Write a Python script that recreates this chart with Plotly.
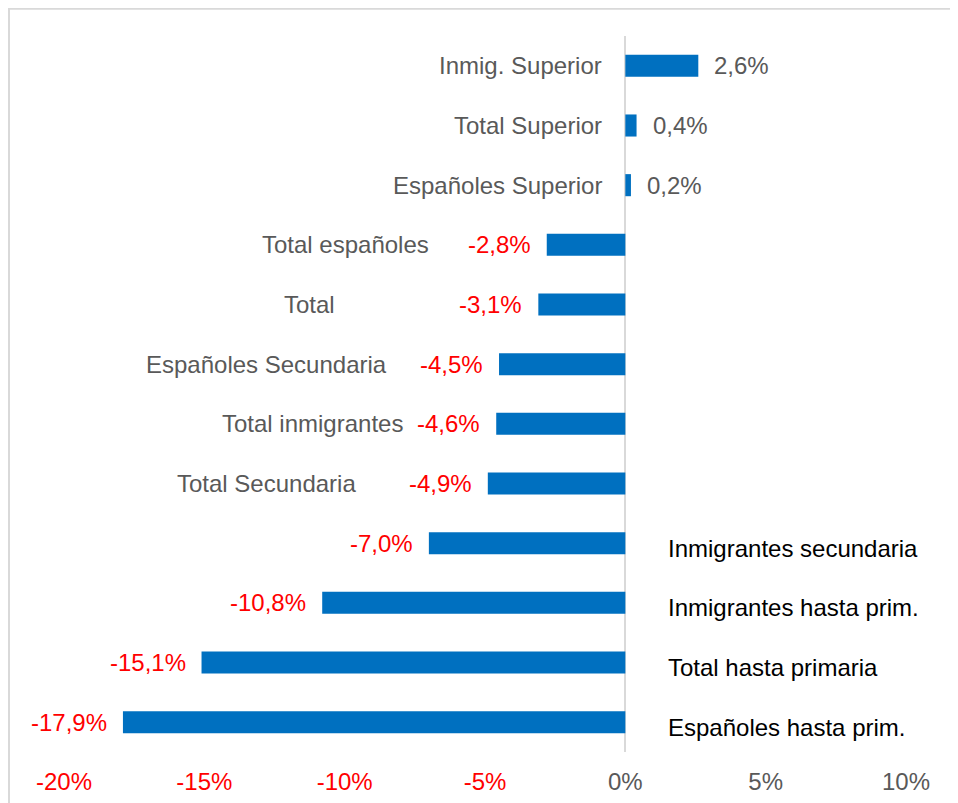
import plotly.graph_objects as go

# datos (de arriba a abajo)
categorias = [
    "Inmig. Superior", "Total Superior", "Españoles Superior",
    "Total españoles", "Total", "Españoles Secundaria",
    "Total inmigrantes", "Total Secundaria", "Inmigrantes secundaria",
    "Inmigrantes hasta prim.", "Total hasta primaria", "Españoles hasta prim.",
]
valores = [2.6, 0.4, 0.2, -2.8, -3.1, -4.5, -4.6, -4.9, -7.0, -10.8, -15.1, -17.9]
tick_vals = [-20, -15, -10, -5, 0, 5, 10]

# posición de las etiquetas de categoría (en unidades del eje x) y su lado
label_x = [-0.75, -0.75, -0.75, -6.92, -10.26, -8.41, -7.84, -9.51, 1.46, 1.46, 1.46, 1.46]
label_lado = ["right"] * 8 + ["left"] * 4

AZUL = "#0070C0"
GRIS = "#595959"
ROJO = "#FF0000"
FUENTE = "Liberation Sans, Arial, sans-serif"
TAM = 24


def fmt(v):
    return f"{v:.1f}".replace(".", ",") + "%"


fig = go.Figure()

fig.add_trace(go.Bar(
    x=valores,
    y=categorias,
    orientation="h",
    marker=dict(color=AZUL, line=dict(width=0)),
    width=0.37,
    hoverinfo="x+y",
))

anotaciones = []
# etiquetas de valor
for cat, v in zip(categorias, valores):
    anotaciones.append(dict(
        x=v, y=cat, xref="x", yref="y",
        text=fmt(v), showarrow=False,
        xanchor="left" if v >= 0 else "right",
        xshift=14 if v >= 0 else -14,
        font=dict(size=TAM, color=GRIS if v >= 0 else ROJO, family=FUENTE),
    ))
# etiquetas de categoría
for cat, lx, lado in zip(categorias, label_x, label_lado):
    anotaciones.append(dict(
        x=lx, y=cat, xref="x", yref="y",
        text=cat, showarrow=False,
        xanchor=lado,
        yshift=0 if lado == "right" else -5,
        font=dict(size=TAM, color=GRIS if lado == "right" else "#000000", family=FUENTE),
    ))

tick_text = [
    f'<span style="color:{ROJO if t < 0 else GRIS}">{t}%</span>' for t in tick_vals
]

fig.update_layout(
    width=958,
    height=803,
    margin=dict(l=56, r=60, t=28, b=59),
    paper_bgcolor="white",
    plot_bgcolor="white",
    showlegend=False,
    font=dict(family=FUENTE, size=TAM, color=GRIS),
    annotations=anotaciones,
    xaxis=dict(
        range=[-20, 10],
        tickvals=tick_vals,
        ticktext=tick_text,
        showgrid=False,
        zeroline=True,
        zerolinecolor="#D9D9D9",
        zerolinewidth=2,
        showline=False,
        ticks="",
        ticklabelstandoff=13,
        tickfont=dict(size=TAM),
        fixedrange=True,
    ),
    yaxis=dict(
        range=[11.5, -0.5],
        showticklabels=False,
        showgrid=False,
        zeroline=False,
        showline=False,
        ticks="",
        fixedrange=True,
    ),
    shapes=[dict(
        type="rect", xref="paper", yref="paper",
        x0=-0.0653, x1=1.0594, y0=-0.1, y1=1.038,
        line=dict(color="#D9D9D9", width=2),
        fillcolor="rgba(0,0,0,0)",
        layer="below",
    )],
)

fig.write_html("out.html")
